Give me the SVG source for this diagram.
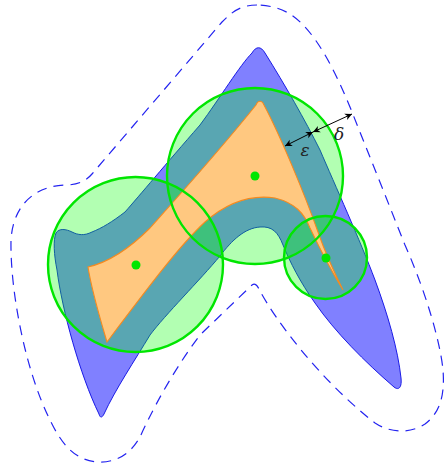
<svg xmlns="http://www.w3.org/2000/svg" width="444" height="466" viewBox="0 0 444 466">
<defs>
<style>
.outer{fill:none;stroke:#2323f0;stroke-width:1.2;stroke-dasharray:10,7}
.blue{fill:#8080ff;stroke:#1a1ae6;stroke-width:1}
.cfill{fill:#00ff00;fill-opacity:0.3;stroke:none}
.cstroke{fill:none;stroke:#00e600;stroke-width:2.4}
.orange{fill:#ffc880;stroke:#f58a1f;stroke-width:1.1}
.dot{fill:#00e600}
.arrow{stroke:#000;stroke-width:1;fill:none;marker-start:url(#ah);marker-end:url(#ah)}
.lbl{font-family:"DejaVu Serif","Liberation Serif",serif;font-style:italic;font-size:17px;fill:#222;text-anchor:middle}
</style>
<marker id="ah" viewBox="-8 -5 10 10" refX="0" refY="0" markerWidth="10" markerHeight="10" markerUnits="userSpaceOnUse" orient="auto-start-reverse">
<path d="M0,0 L-7,-3.5 L-5,0 L-7,3.5 Z" fill="#000"/>
</marker>
</defs>
<g id="outer-offset">
<path class="outer" d="M257,5 C240,5 232,12 222,22 L92,174 C86,181 78,185 65,185 C35,186 13,205 11,240 C10,290 25,370 50,420 C62,445 75,460 97,462 C115,463 130,455 140,437 C150,415 170,375 200,335 L252,285 C255,283 257,285 259,289 C275,320 320,380 375,423 C390,433 410,434 425,424 C440,413 445,395 443,370 C440,340 425,290 405,245 L352,112 C335,70 315,30 290,14 C280,8 268,5 257,5 Z"/>
</g>
<g id="blue-shape">
<path class="blue" d="M252,53 C256,46 261,46 265,53 C285,85 305,120 320,150 C335,185 360,240 375,280 C388,315 398,350 401,378 C402,387 399,391 394,387 C365,362 335,332 315,303 C300,282 290,262 283,245 C278,232 272,226 260,227 C245,228 232,240 220,256 C200,280 165,315 150,335 C135,360 115,390 104,414 C102,418 100,418 99,414 C80,375 62,310 57,270 C54,255 53,240 56,233 C59,228 66,229 72,232 C78,235 84,236 92,232 C102,228 112,222 125,212 C140,195 165,165 200,125 C220,98 240,65 252,53 Z"/>
</g>
<g id="circle-fills">
<circle class="cfill" cx="255" cy="176" r="88"/>
<circle class="cfill" cx="135.5" cy="264.5" r="87.5"/>
<circle class="cfill" cx="325.5" cy="257.5" r="41.5"/>
</g>
<g id="orange-shape">
<path class="orange" d="M256,105 C258,100 262,100 264,105 C280,135 305,195 318,232 C326,255 334,272 343,290 C332,272 318,245 310,228 C304,213 295,203 275,198 C255,195 230,200 205,222 C180,245 150,285 107,342 C100,318 92,292 88,267 C110,262 130,248 150,228 C175,200 220,150 256,105 Z"/>
</g>
<g id="circles">
<circle class="cstroke" cx="255" cy="176" r="88"/>
<circle class="cstroke" cx="135.5" cy="264.5" r="87.5"/>
<circle class="cstroke" cx="325.5" cy="257.5" r="41.5"/>
</g>
<g id="centers">
<circle class="dot" cx="255" cy="176" r="4.5"/>
<circle class="dot" cx="136" cy="265" r="4.5"/>
<circle class="dot" cx="326" cy="258" r="4.5"/>
</g>
<g id="connectors">
<line class="arrow" x1="285" y1="146" x2="313" y2="132"/>
<line class="arrow" x1="313" y1="132" x2="352" y2="114"/>
</g>
<g id="labels">
<text class="lbl" x="305" y="156">ε</text>
<text class="lbl" x="339" y="140">δ</text>
</g>
</svg>
